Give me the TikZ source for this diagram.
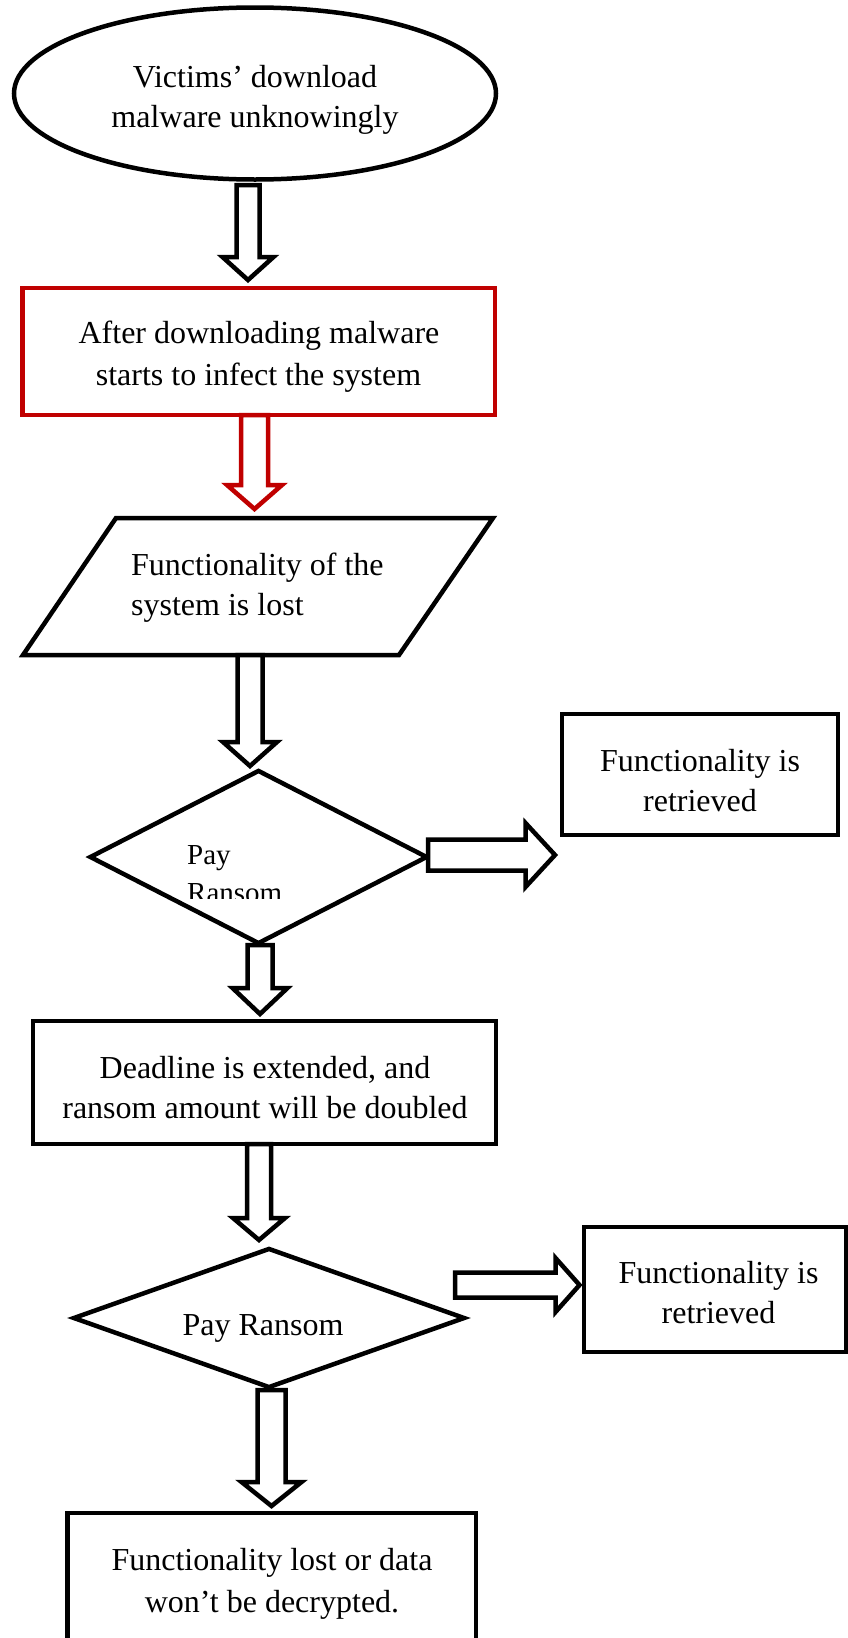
\documentclass[tikz,border=0pt]{standalone}
\usepackage{fontspec}
\setmainfont{Liberation Serif}
\usetikzlibrary{shapes.geometric,calc}
\definecolor{darkred}{RGB}{192,0,0}
\tikzset{
  shapeline/.style={draw=black, line width=4.5pt, line join=miter},
  boxnode/.style={shapeline, rectangle, inner sep=0pt},
  txt/.style={inner sep=0pt, anchor=base, font=\fontsize{32}{40}\selectfont},
  smalltxt/.style={inner sep=0pt, anchor=base west, font=\fontsize{29}{37}\selectfont},
  barrow/.style={draw=black, line width=4.5pt, fill=white, line join=miter},
}
% #1 options, #2 start, #3 tip, #4 shaft half width, #5 head half width, #6 head length
\newcommand\blockarrow[6][]{%
  \coordinate (bahead) at ($(#3)!#6!(#2)$);
  \draw[barrow,#1] ($(#2)!#4!90:(#3)$) -- ($(bahead)!#4!-90:(#2)$) -- ($(bahead)!#5!-90:(#2)$) -- (#3)
     -- ($(bahead)!#5!90:(#2)$) -- ($(bahead)!#4!90:(#2)$) -- ($(#2)!#4!-90:(#3)$) -- cycle;
}
\begin{document}
\begin{tikzpicture}[x=1pt,y=-1pt]
\useasboundingbox (0,0) rectangle (848,1638);

% shapes
\node[shapeline, ellipse, minimum width=482pt, minimum height=172pt, inner sep=0pt] (start) at (255,93.5) {};
\node[boxnode, draw=darkred, minimum width=472.5pt, minimum height=127pt] (infect) at (258.75,351.5) {};
\draw[shapeline] (116,518) coordinate (lostTL) -- (493,518) coordinate (lostTR) -- (399,655) coordinate (lostBR) -- (23,655) coordinate (lostBL) -- cycle;
\node[shapeline, diamond, inner sep=0pt, minimum width=338pt, minimum height=174pt] (pay1) at (258.5,857) {};
\node[boxnode, minimum width=276pt, minimum height=121pt] (ret1) at (700,774.5) {};
\node[boxnode, minimum width=463pt, minimum height=123pt] (deadline) at (264.5,1082.5) {};
\node[shapeline, diamond, inner sep=0pt, minimum width=392pt, minimum height=140pt] (pay2) at (269,1318) {};
\node[boxnode, minimum width=262pt, minimum height=125pt] (ret2) at (715,1289.5) {};
\node[boxnode, minimum width=408.4pt, minimum height=167pt] (final) at (271.8,1596.5) {};

% texts
\node[txt] (t1a) at (255,87) {Victims’ download};
\node[txt] (t1b) at (255,127) {malware unknowingly};
\node[txt] (t2a) at (259,343) {After downloading malware};
\node[txt] (t2b) at (258.5,385) {starts to infect the system};
\node[txt, anchor=base west] (t3a) at (131,575) {Functionality of the};
\node[txt, anchor=base west] (t3b) at (131,615) {system is lost};
\node[smalltxt] (t4a) at (187,864) {Pay};
\begin{scope}
  \clip (150,870) rectangle (400,898);
  \node[smalltxt] (t4b) at (187,902) {Ransom};
\end{scope}
\node[txt] (t5a) at (700,771) {Functionality is};
\node[txt] (t5b) at (700,811) {retrieved};
\node[txt] (t6a) at (265,1078) {Deadline is extended, and};
\node[txt] (t6b) at (265,1118) {ransom amount will be doubled};
\node[txt] (t7) at (263,1335) {Pay Ransom};
\node[txt] (t8a) at (718.5,1283) {Functionality is};
\node[txt] (t8b) at (718.5,1323) {retrieved};
\node[txt] (t9a) at (272,1570) {Functionality lost or data};
\node[txt] (t9b) at (272,1612) {won’t be decrypted.};

% connector end points
\coordinate (a1s) at (248,185);   \coordinate (a1e) at (248,280);
\coordinate (a2s) at (254.5,415); \coordinate (a2e) at (254.5,509);
\coordinate (a3s) at (250,655);   \coordinate (a3e) at (250,766);
\coordinate (a4s) at (260,945);   \coordinate (a4e) at (260,1014);
\coordinate (a5s) at (259,1144);  \coordinate (a5e) at (259,1240);
\coordinate (a6s) at (271.5,1390);\coordinate (a6e) at (271.5,1506);
\coordinate (r1s) at (428,855);   \coordinate (r1e) at (555,855);
\coordinate (r2s) at (455,1285);  \coordinate (r2e) at (579.5,1285);

% block arrows
\blockarrow{a1s}{a1e}{11.5pt}{25.5pt}{23pt}
\blockarrow[draw=darkred]{a2s}{a2e}{13.5pt}{27.5pt}{24pt}
\blockarrow{a3s}{a3e}{12.5pt}{27pt}{24pt}
\blockarrow{a4s}{a4e}{12.5pt}{27.5pt}{26pt}
\blockarrow{a5s}{a5e}{12pt}{26pt}{22pt}
\blockarrow{a6s}{a6e}{14pt}{30pt}{24pt}
\blockarrow{r1s}{r1e}{15.5pt}{32pt}{29.5pt}
\blockarrow{r2s}{r2e}{12.5pt}{27pt}{24pt}
\end{tikzpicture}
\end{document}
